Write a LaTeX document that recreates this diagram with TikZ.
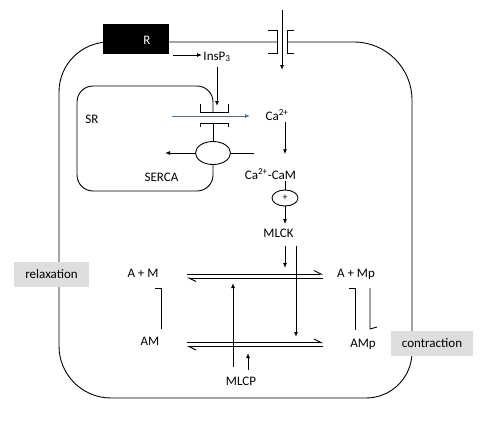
\documentclass[tikz,border=0pt]{standalone}
\usepackage{fontspec}
\setmainfont{Carlito}
\usetikzlibrary{arrows.meta,shapes.geometric}
\definecolor{srblue}{RGB}{74,112,160}
\tikzset{
  arr/.style={-{Latex[length=5pt,width=4pt]}},
  eqm/.style={line width=1pt,-{Straight Barb[harpoon,length=7pt,width=7pt]}},
  txt/.style={font=\fontsize{13}{15}\selectfont,inner sep=1pt,anchor=base},
  tag/.style={font=\fontsize{13}{15}\selectfont,fill=black!13,minimum height=25pt,inner sep=0pt},
  blob/.style={draw,ellipse,inner sep=0pt},
}

\begin{document}
\begin{tikzpicture}[x=1pt,y=-1pt,line width=0.9pt]
\useasboundingbox (0,0) rectangle (500,434);

\draw[rounded corners=50] (59,220) -- (59,42) -- (277,42);
\draw[rounded corners=58] (287,42) -- (412,42) -- (412,220);
\draw[rounded corners=46] (412,220) -- (412,398) -- (230,398);
\draw[rounded corners=52] (230,398) -- (59,398) -- (59,220);

\draw (268,30) to (277,30) to (277,53) to (268,53);
\draw (294,30) to (287,30) to (287,53) to (294,53);
\coordinate (chtop) at (282,10);
\coordinate (chin) at (282,70);
\draw[arr] (chtop) to (chin);

\node[fill=black,minimum width=66pt,minimum height=30pt,inner sep=0pt] (rbox) at (136,39) {};
\node[txt,text=white] (R) at (147,44) {R};
\node[txt] (ins) at (217,60) {InsP\textsubscript{3}};
\coordinate (rtail) at (173,55);
\draw[arr] (rtail) to (ins.west |- rtail);

\draw[rounded corners=16] (213,112) -- (213,86) -- (77,86) -- (77,191) -- (213,191) -- (213,165);
\draw (200,104) to (200,112) to (228,112) to (228,104);
\draw (200,127) to (200,123) to (228,123) to (228,127);
\coordinate (ipr) at (217,106);
\draw[arr,shorten <=4pt] (ins.south) to (ipr);
\coordinate (srout) at (172,116);
\coordinate (cyto) at (250,116);
\draw[arr,color=srblue] (srout) to (cyto);
\node[txt] (SR) at (92,123) {SR};

\node[blob,minimum width=35pt,minimum height=23pt] (serca) at (213,153) {};
\draw (213,123) to (serca.north);
\coordinate (sercaout) at (165,153);
\coordinate (sercain) at (254,153);
\draw[arr] (serca.west) to (sercaout);
\draw (serca.east) to (sercain);
\node[txt] (SERCA) at (161.5,181) {SERCA};

\node[txt] (Ca) at (277,120) {Ca\textsuperscript{2+}};
\node[txt] (CaM) at (270.5,179) {Ca\textsuperscript{2+}-CaM};
\node[blob,minimum width=26pt,minimum height=16pt,font=\fontsize{10}{10}\selectfont] (plus) at (285,198) {+};
\node[txt] (MLCK) at (278.5,237) {MLCK};
\draw[arr,shorten >=13pt] (Ca.south -| plus) to (CaM.north -| plus);
\draw (CaM.south -| plus) to (plus.north);
\draw[arr,shorten >=3pt] (plus.south) to (MLCK.north -| plus);

\node[txt] (AM0) at (143,277) {A + M};
\node[txt] (AM) at (150,345) {AM};
\node[txt] (AMp0) at (356,277) {A + Mp};
\node[txt] (AMp) at (363,347) {AMp};
\node[txt] (MLCP) at (241,385) {MLCP};

\coordinate (e1l) at (187,274);
\coordinate (e1r) at (323,274);
\coordinate (e2l) at (187,278);
\coordinate (e2r) at (323,278);
\coordinate (e3l) at (187,342.5);
\coordinate (e3r) at (323,342.5);
\coordinate (e4l) at (187,346.5);
\coordinate (e4r) at (323,346.5);
\draw[eqm] (e1l) to (e1r);
\draw[eqm] (e2r) to (e2l);
\draw[eqm] (e3l) to (e3r);
\draw[eqm] (e4r) to (e4l);

\draw (155,288) to (161,288) to (161,329);
\draw (349,288) to (355,288) to (355,330);
\draw (370,288) to (370,329) to (377,327);

\coordinate (k1) at (285,268);
\coordinate (k2) at (296,337);
\draw[arr,shorten <=7pt] (MLCK.south -| k1) to (k1);
\draw[arr,shorten <=7pt] (MLCK.south -| k2) to (k2);
\coordinate (p1) at (233,367);
\coordinate (p2) at (233,283);
\coordinate (p3) at (248,353);
\draw[arr] (p1) to (p2);
\draw[arr,shorten <=5pt] (MLCP.north -| p3) to (p3);

\node[tag,minimum width=75pt] (relax) at (51.5,274.5) {relaxation};
\node[tag,minimum width=82pt] (contr) at (432,343.5) {contraction};

\end{tikzpicture}
\end{document}
